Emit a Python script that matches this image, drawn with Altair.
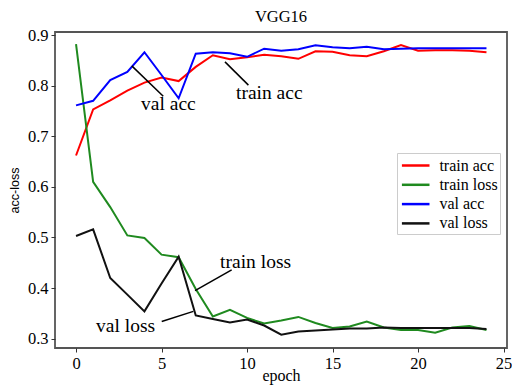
import altair as alt
import pandas as pd

# Training history of the VGG16 model, one value per epoch
epochs = list(range(25))
train_acc = [0.662, 0.753, 0.771, 0.790, 0.806, 0.816, 0.809, 0.837, 0.860, 0.852,
             0.856, 0.861, 0.858, 0.853, 0.868, 0.867, 0.860, 0.858, 0.868, 0.880,
             0.869, 0.870, 0.870, 0.869, 0.866]
val_acc = [0.761, 0.770, 0.811, 0.827, 0.866, 0.821, 0.775, 0.863, 0.866, 0.864,
           0.857, 0.873, 0.869, 0.872, 0.880, 0.876, 0.874, 0.877, 0.872, 0.873,
           0.874, 0.874, 0.874, 0.874, 0.874]
train_loss = [0.882, 0.610, 0.560, 0.504, 0.499, 0.466, 0.461, 0.398, 0.344, 0.357,
              0.341, 0.330, 0.336, 0.343, 0.331, 0.321, 0.324, 0.334, 0.322, 0.317,
              0.317, 0.312, 0.322, 0.325, 0.317]
val_loss = [0.503, 0.516, 0.420, 0.387, 0.354, 0.409, 0.462, 0.346, 0.339, 0.332,
            0.338, 0.326, 0.308, 0.314, 0.316, 0.318, 0.320, 0.320, 0.322, 0.321,
            0.321, 0.321, 0.321, 0.321, 0.319]

series_names = ["train acc", "train loss", "val acc", "val loss"]
series_colors = ["#ff0000", "#1f8a1f", "#0000ff", "#111111"]

# Callout labels with their leader lines (epoch / value coordinates)
note_text = ["val acc", "train acc", "train loss", "val loss"]
note_tx = [5.4, 11.3, 10.5, 2.9]
note_ty = [0.763, 0.785, 0.452, 0.326]
lead_x1 = [3.26, 8.71, 6.96, 5.01]
lead_y1 = [0.839, 0.847, 0.395, 0.334]
lead_x2 = [5.10, 10.08, 9.10, 6.86]
lead_y2 = [0.779, 0.801, 0.436, 0.354]

rows = []
for name, vals in zip(series_names, [train_acc, train_loss, val_acc, val_loss]):
    for e, v in zip(epochs, vals):
        rows.append({"epoch": e, "value": v, "series": name})
df = pd.DataFrame(rows)

notes = pd.DataFrame({"label": note_text, "tx": note_tx, "ty": note_ty,
                      "x1": lead_x1, "y1": lead_y1, "x2": lead_x2, "y2": lead_y2})

FONT = "Liberation Serif"
xscale = alt.Scale(domain=[-1.23, 25.2], nice=False, zero=False)
yscale = alt.Scale(domain=[0.2816, 0.906], nice=False, zero=False)

lines = alt.Chart(df).mark_line(strokeWidth=2).encode(
    x=alt.X("epoch:Q", scale=xscale,
            axis=alt.Axis(title="epoch", values=[0, 5, 10, 15, 20, 25])),
    y=alt.Y("value:Q", scale=yscale,
            axis=alt.Axis(title="acc-loss", values=[0.3, 0.4, 0.5, 0.6, 0.7, 0.8, 0.9],
                          format=".1f", titleFont="Liberation Sans",
                          titleFontSize=12.5)),
    color=alt.Color("series:N",
                    scale=alt.Scale(domain=series_names, range=series_colors),
                    legend=alt.Legend(title=None)),
    order="epoch:Q",
)

leaders = alt.Chart(notes).mark_rule(color="black", strokeWidth=1.5).encode(
    x=alt.X("x1:Q", scale=xscale), y=alt.Y("y1:Q", scale=yscale),
    x2="x2:Q", y2="y2:Q",
)

labels = alt.Chart(notes).mark_text(font=FONT, fontSize=19.5, color="black",
                                    baseline="middle").encode(
    x=alt.X("tx:Q", scale=xscale), y=alt.Y("ty:Q", scale=yscale), text="label:N",
)

chart = alt.layer(lines, leaders, labels).properties(
    width=452, height=316,
    title=alt.TitleParams("VGG16", font=FONT, fontSize=16.5, fontWeight="normal",
                          offset=2, color="black"),
    autosize=alt.AutoSizeParams(type="none"),
    padding={"left": 55, "top": 32, "right": 5, "bottom": 38},
).configure_view(
    stroke="#555555", strokeWidth=1.8,
).configure_axis(
    domain=False, grid=False,
    labelFont=FONT, labelFontSize=16.5, labelColor="black",
    titleFont=FONT, titleFontSize=16, titleFontWeight="normal", titleColor="black",
    tickColor="#333333", tickSize=4, labelPadding=3,
).configure_axisY(
    titlePadding=6,
).configure_axisX(
    titlePadding=-4,
).configure_legend(
    orient="none", legendX=342, legendY=121,
    strokeColor="#cccccc", fillColor="white", padding=2, cornerRadius=0,
    symbolType="M-0.844,0H2.222", symbolSize=324, symbolStrokeWidth=2.5,
    labelFont=FONT, labelFontSize=16, labelColor="black", rowPadding=0.3,
    labelOffset=19.4,
)

chart.save("out.html", embed_options={"renderer": "svg", "actions": False})
